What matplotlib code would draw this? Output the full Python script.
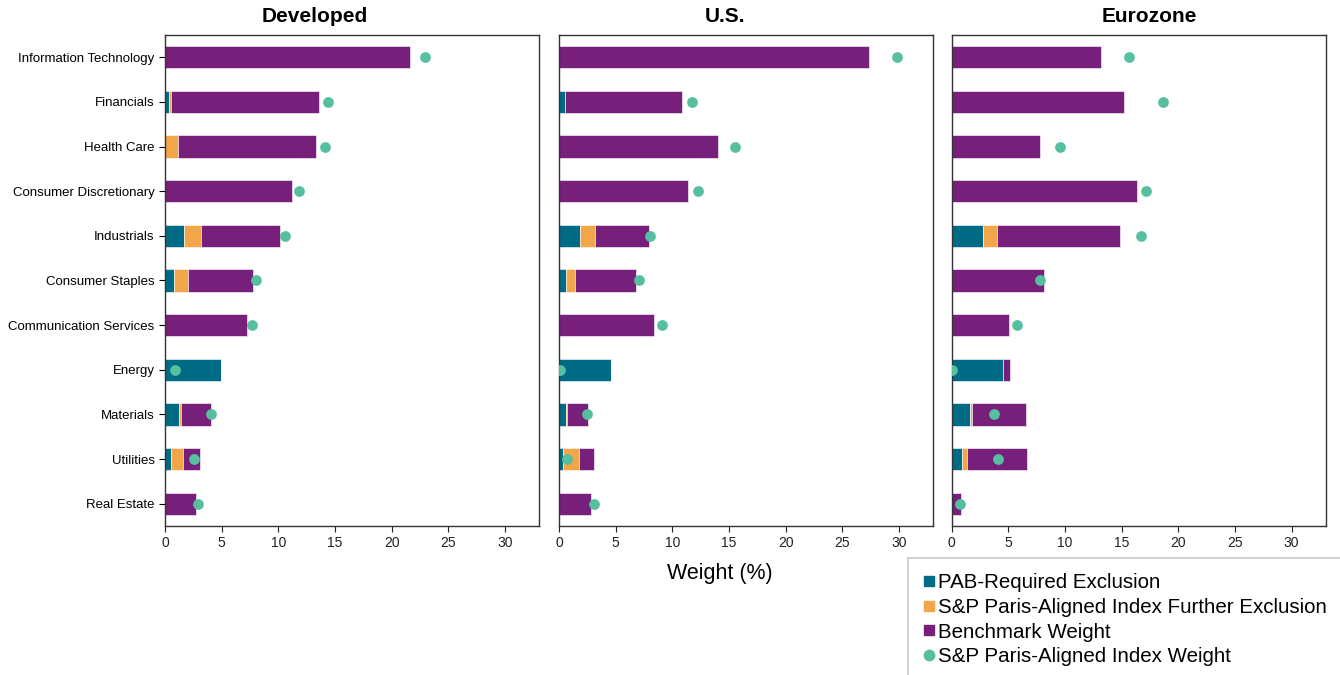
import numpy as np
import matplotlib
matplotlib.use('Agg')
import matplotlib.pyplot as plt
from matplotlib.lines import Line2D

plt.rcParams['font.family'] = ['Liberation Sans', 'DejaVu Sans']

sectors = ['Information Technology', 'Financials', 'Health Care', 'Consumer Discretionary',
           'Industrials', 'Consumer Staples', 'Communication Services', 'Energy',
           'Materials', 'Utilities', 'Real Estate']
regions = ['Developed', 'U.S.', 'Eurozone']

# PAB-required exclusion (%)
pab_dev = [0, 0.32, 0, 0, 1.7, 0.82, 0, 4.95, 1.2, 0.56, 0]
pab_us = [0, 0.53, 0, 0, 1.89, 0.62, 0, 4.63, 0.62, 0.32, 0]
pab_eu = [0, 0, 0, 0, 2.79, 0, 0, 4.55, 1.62, 0.97, 0]

# S&P Paris-Aligned further exclusion (%)
further_dev = [0, 0.24, 1.17, 0, 1.45, 1.21, 0, 0, 0.24, 1.06, 0]
further_us = [0, 0, 0, 0, 1.26, 0.82, 0, 0, 0.08, 1.48, 0]
further_eu = [0, 0, 0, 0, 1.21, 0, 0, 0, 0.2, 0.44, 0]

# benchmark weight, total bar length (%)
bench_dev = [21.65, 13.56, 13.3, 11.23, 10.15, 7.73, 7.26, 4.95, 4.06, 3.09, 2.74]
bench_us = [27.35, 10.85, 14.03, 11.4, 7.9, 6.75, 8.4, 4.63, 2.54, 3.12, 2.8]
bench_eu = [13.18, 15.23, 7.85, 16.35, 14.91, 8.15, 5.08, 5.15, 6.58, 6.62, 0.82]

# S&P Paris-Aligned index weight (%)
paris_dev = [22.9, 14.35, 14.1, 11.85, 10.56, 8.03, 7.7, 0.91, 4.09, 2.59, 2.95]
paris_us = [29.86, 11.73, 15.53, 12.26, 8.05, 7.1, 9.1, 0.05, 2.5, 0.74, 3.07]
paris_eu = [15.65, 18.68, 9.56, 17.15, 16.73, 7.82, 5.82, 0.05, 3.73, 4.06, 0.79]

teal = '#006b84'
orange = '#f2a64a'
purple = '#76207b'
green = '#56bfa0'

data = [(pab_dev, further_dev, bench_dev, paris_dev),
        (pab_us, further_us, bench_us, paris_us),
        (pab_eu, further_eu, bench_eu, paris_eu)]

fig = plt.figure(figsize=(13.4, 6.75), dpi=100)
lefts = [165 / 1340, 559 / 1340, 951.5 / 1340]
# titles are not centred over their panels in the original
title_x = [0.40, 0.444, 0.528]

y = np.arange(len(sectors))
for i in range(3):
    ax = fig.add_axes([lefts[i], 1 - 526 / 675, 374 / 1340, 491 / 675])
    pab, further, bench, paris = [np.array(a) for a in data[i]]
    ax.barh(y, pab, height=0.5, color=teal, edgecolor='white', linewidth=0.4)
    ax.barh(y, further, left=pab, height=0.5, color=orange, edgecolor='white', linewidth=0.4)
    ax.barh(y, bench - pab - further, left=pab + further, height=0.5, color=purple,
            edgecolor='white', linewidth=0.4)
    ax.scatter(paris, y, s=60, color=green, zorder=3, linewidths=0)
    ax.set_xlim(0, 33)
    ax.set_ylim(10.5, -0.5)
    ax.set_xticks(np.arange(0, 31, 5))
    ax.tick_params(axis='x', labelsize=10, length=4, colors='#222222')
    ax.set_title(regions[i], fontsize=15, fontweight='bold', x=title_x[i], pad=9)
    for s in ax.spines.values():
        s.set_color('#333333')
        s.set_linewidth(1)
    if i == 0:
        ax.set_yticks(y)
        ax.set_yticklabels(sectors, fontsize=9.5)
        ax.tick_params(axis='y', length=4)
    else:
        ax.set_yticks([])
    if i == 1:
        ax.set_xlabel('Weight (%)', fontsize=15.5, labelpad=6)
        ax.xaxis.set_label_coords(0.43, -0.075)

handles = [Line2D([], [], marker='s', linestyle='none', color=teal, markersize=7.5),
           Line2D([], [], marker='s', linestyle='none', color=orange, markersize=7.5),
           Line2D([], [], marker='s', linestyle='none', color=purple, markersize=7.5),
           Line2D([], [], marker='o', linestyle='none', color=green, markersize=7.5)]
labels = ['PAB-Required Exclusion', 'S&P Paris-Aligned Index Further Exclusion',
          'Benchmark Weight', 'S&P Paris-Aligned Index Weight']
leg = fig.legend(handles, labels, loc='upper left', bbox_to_anchor=(908 / 1340, 1 - 558 / 675),
                 fontsize=14.8, frameon=True, fancybox=False, handlelength=0.5,
                 handletextpad=0.2, labelspacing=0.27, borderpad=0.75, borderaxespad=0)
leg.get_frame().set_edgecolor('#bbbbbb')
leg.get_frame().set_linewidth(1.2)

plt.savefig('out.png', dpi=100)
